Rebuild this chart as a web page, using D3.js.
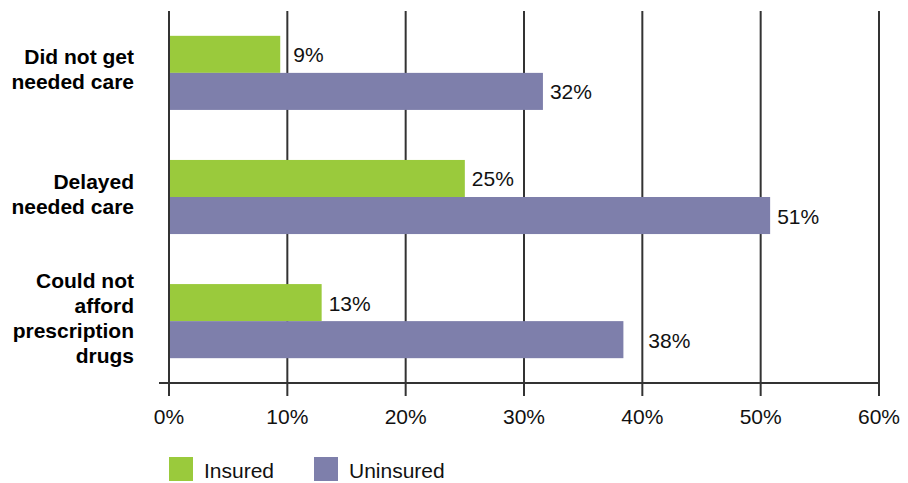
<!DOCTYPE html>
<html>
<head>
<meta charset="utf-8">
<script src="https://cdn.jsdelivr.net/npm/d3@7"></script>
<style>
  body { margin: 0; background: #fff; }
  svg { display: block; font-family: 'Liberation Sans', Arial, Helvetica, sans-serif; }
  .cat { font-weight: bold; font-size: 21px; fill: #000; }
  .val, .tick-label, .legend-label { font-size: 21px; fill: #111; }
</style>
</head>
<body>
<div id="chart"></div>
<script>
  // values (percent of adults)
  var categories = [
    ['Did not get', 'needed care'],
    ['Delayed', 'needed care'],
    ['Could not', 'afford', 'prescription', 'drugs']
  ];
  var seriesNames = ['Insured', 'Uninsured'];
  var insured = [9.4, 25, 12.9];
  var uninsured = [31.6, 50.8, 38.4];
  var xTicks = [0, 10, 20, 30, 40, 50, 60];
  var colors = ['#9aca3c', '#7e7fab'];

  (function() {
    'use strict';
    var width = 908,
      height = 483,
      plotLeft = 169,
      plotRight = 879,
      plotTop = 11,
      plotBottom = 383;

    var svg = d3.select('#chart')
      .append('svg')
      .attr('width', width)
      .attr('height', height);

    var x = d3.scaleLinear()
      .domain([0, 60])
      .range([plotLeft, plotRight]);

    var y = d3.scaleBand()
      .domain(d3.range(categories.length))
      .range([plotTop, plotBottom])
      .paddingInner(0.403)
      .paddingOuter(0.2);

    var sub = d3.scaleBand()
      .domain(d3.range(seriesNames.length))
      .range([0, y.bandwidth()]);

    // vertical grid lines, running a little below the axis as ticks
    svg.append('g')
      .selectAll('line')
      .data(xTicks)
      .enter().append('line')
      .attr('x1', function(d) { return x(d); })
      .attr('x2', function(d) { return x(d); })
      .attr('y1', plotTop)
      .attr('y2', plotBottom + 13)
      .attr('stroke', '#333')
      .attr('stroke-width', 2);

    var rows = [];
    categories.forEach(function(c, i) {
      rows.push({ cat: i, s: 0, v: insured[i] });
      rows.push({ cat: i, s: 1, v: uninsured[i] });
    });

    svg.append('g')
      .selectAll('rect')
      .data(rows)
      .enter().append('rect')
      .attr('x', x(0) + 1)
      .attr('y', function(d) { return y(d.cat) + sub(d.s); })
      .attr('width', function(d) { return x(d.v) - x(0) - 1; })
      .attr('height', sub.bandwidth())
      .attr('fill', function(d) { return colors[d.s]; });

    // value labels, nudged past a grid line if they would sit on one
    svg.append('g')
      .selectAll('text')
      .data(rows)
      .enter().append('text')
      .attr('class', 'val')
      .text(function(d) { return Math.round(d.v) + '%'; })
      .attr('y', function(d) { return y(d.cat) + sub(d.s) + sub.bandwidth() / 2 + 8; })
      .attr('x', function(d) {
        var start = x(d.v) + 7,
          w = this.getComputedTextLength();
        xTicks.forEach(function(t) {
          var gx = x(t);
          if (gx > start - 3 && gx < start + w + 2) {
            start = gx + 6;
          }
        });
        return start;
      });

    // x axis
    svg.append('line')
      .attr('x1', 159)
      .attr('x2', plotRight)
      .attr('y1', plotBottom)
      .attr('y2', plotBottom)
      .attr('stroke', '#333')
      .attr('stroke-width', 2);

    svg.append('g')
      .selectAll('text')
      .data(xTicks)
      .enter().append('text')
      .attr('class', 'tick-label')
      .attr('x', function(d) { return x(d); })
      .attr('y', 424)
      .attr('text-anchor', 'middle')
      .text(function(d) { return d + '%'; });

    // category labels
    var lineH = 25;
    svg.append('g')
      .selectAll('text')
      .data(categories)
      .enter().append('text')
      .attr('class', 'cat')
      .attr('text-anchor', 'end')
      .each(function(lines, i) {
        var mid = y(i) + y.bandwidth() / 2 - 3,
          first = mid - (lines.length - 1) * lineH / 2 + 7;
        d3.select(this).selectAll('tspan')
          .data(lines)
          .enter().append('tspan')
          .attr('x', 134)
          .attr('y', function(d, j) { return first + j * lineH; })
          .text(function(d) { return d; });
      });

    // legend
    var legendX = [169, 314];
    var legend = svg.append('g')
      .selectAll('g')
      .data(seriesNames)
      .enter().append('g')
      .attr('transform', function(d, i) { return 'translate(' + legendX[i] + ',457)'; });

    legend.append('rect')
      .attr('width', 24)
      .attr('height', 24)
      .attr('fill', function(d, i) { return colors[i]; });

    legend.append('text')
      .attr('class', 'legend-label')
      .attr('x', 35)
      .attr('y', 21)
      .text(function(d) { return d; });
  })();
</script>
</body>
</html>
